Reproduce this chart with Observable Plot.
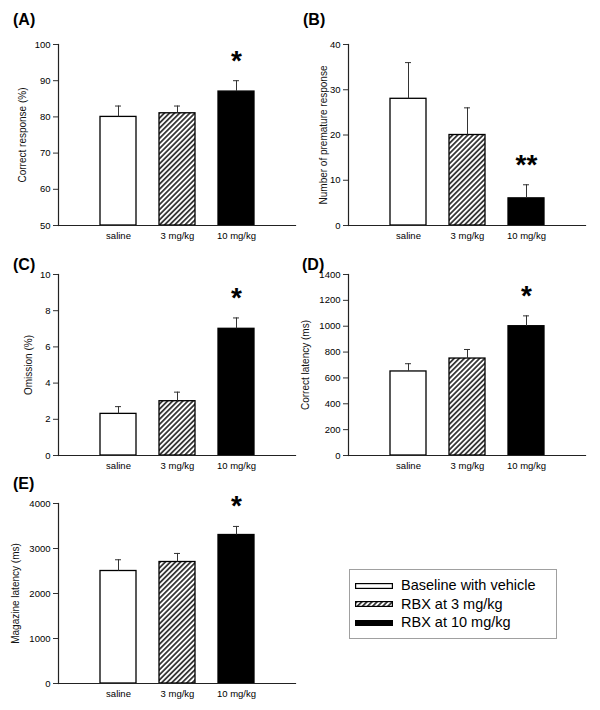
<!DOCTYPE html>
<html><head><meta charset="utf-8">
<script src="https://cdn.jsdelivr.net/npm/d3@7"></script>
<script src="https://cdn.jsdelivr.net/npm/@observablehq/plot@0.6"></script>
<style>
body{margin:0;background:#fff;font-family:"Liberation Sans",Arial,sans-serif;}
#wrap{position:relative;width:600px;height:710px;overflow:hidden;}
.panel{position:absolute;}
.plabel{position:absolute;font-weight:bold;font-size:16px;line-height:16px;}
#legend{position:absolute;left:349px;top:569px;width:206px;height:68px;border:1px solid #a0a0a0;background:#fff;}
.lrow{position:absolute;left:0;height:18px;font-size:14.5px;line-height:18px;white-space:nowrap;}
.lrow svg{position:absolute;left:5px;top:6.5px;}
.lrow span{position:absolute;left:51px;top:0;}
</style></head><body>
<svg width="0" height="0" style="position:absolute">
  <defs>
    <pattern id="hatch" patternUnits="userSpaceOnUse" width="3.6" height="10" patternTransform="rotate(45)">
      <rect width="3.6" height="10" fill="white"/>
      <line x1="1.8" y1="0" x2="1.8" y2="10" stroke="black" stroke-width="1.4"/>
    </pattern>
  </defs>
</svg>
<div id="wrap"></div>
<script>
// ---- data ----
const doses = ["saline", "3 mg/kg", "10 mg/kg"];
const groupFills = ["white", "url(#hatch)", "black"];
const legendLabels = ["Baseline with vehicle", "RBX at 3 mg/kg", "RBX at 10 mg/kg"];
const panelLabels = ["(A)", "(B)", "(C)", "(D)", "(E)"];
const yTitles = ["Correct response (%)", "Number of premature response", "Omission (%)", "Correct latency (ms)", "Magazine latency (ms)"];

const meanA = [80, 81, 87];      const errA = [3, 2, 3];       const sigA = ["", "", "*"];
const meanB = [28, 20, 6];       const errB = [8, 6, 3];       const sigB = ["", "", "**"];
const meanC = [2.3, 3.0, 7.0];   const errC = [0.4, 0.5, 0.6]; const sigC = ["", "", "*"];
const meanD = [650, 750, 1000];  const errD = [60, 70, 80];    const sigD = ["", "", "*"];
const meanE = [2500, 2700, 3300];const errE = [250, 190, 190]; const sigE = ["", "", "*"];

const domainA = [50, 100];  const ticksA = [50, 60, 70, 80, 90, 100];
const domainB = [0, 40];    const ticksB = [0, 10, 20, 30, 40];
const domainC = [0, 10];    const ticksC = [0, 2, 4, 6, 8, 10];
const domainD = [0, 1400];  const ticksD = [0, 200, 400, 600, 800, 1000, 1200, 1400];
const domainE = [0, 4000];  const ticksE = [0, 1000, 2000, 3000, 4000];

// ---- layout ----
const wrap = document.getElementById("wrap");
const font = "'Liberation Sans', Arial, sans-serif";

function panel(mean, err, sig, domain, ticks, title, label, L) {
  const data = doses.map((d, i) => ({dose: d, mean: mean[i], err: err[i], sig: sig[i], base: domain[0], fill: groupFills[i]}));
  const svg = Plot.plot({
    width: 300, height: L.h,
    marginLeft: L.ml, marginRight: L.mr, marginTop: L.mt, marginBottom: L.mb,
    style: {fontFamily: font, fontSize: "9.5px", background: "transparent", color: "#000", overflow: "visible"},
    x: {domain: doses, paddingInner: 0.392, paddingOuter: 0.696, label: null},
    y: {domain: domain, label: null},
    color: {type: "identity"},
    marks: [
      Plot.barY(data, {x: "dose", y1: "base", y2: "mean", fill: "fill", stroke: "black", strokeWidth: 1.3}),
      Plot.ruleX(data, {x: "dose", y1: "mean", y2: d => d.mean + d.err, stroke: "#333", strokeWidth: 1}),
      Plot.tickY(data, {x: "dose", y: d => d.mean + d.err, stroke: "#333", strokeWidth: 1, insetLeft: 15, insetRight: 15}),
      Plot.text(data, {x: "dose", y: d => d.mean + d.err, text: "sig", dy: -20, fontSize: 28, fontWeight: "bold", fill: "black"}),
      Plot.axisY({ticks: ticks, tickSize: 5, tickPadding: 3, tickFormat: d => String(d), label: null, stroke: "#333"}),
      Plot.axisX({tickSize: 0, tickPadding: 7, label: null}),
      Plot.frame({anchor: "left", stroke: "#222", strokeWidth: 1.2}),
      Plot.frame({anchor: "bottom", stroke: "#222", strokeWidth: 1.2}),
      Plot.text([title], {frameAnchor: "left", textAnchor: "middle", lineAnchor: "middle", rotate: -90, dx: -L.to, fontSize: 10, text: d => d, fill: "#111"})
    ]
  });
  svg.classList.add("panel");
  svg.style.left = L.left + "px";
  svg.style.top = L.top + "px";
  wrap.appendChild(svg);
  const lab = document.createElement("div");
  lab.className = "plabel";
  lab.textContent = label;
  lab.style.left = L.lx + "px";
  lab.style.top = L.ly + "px";
  wrap.appendChild(lab);
}

panel(meanA, errA, sigA, domainA, ticksA, yTitles[0], panelLabels[0], {left: 0,   top: 0,   h: 250, ml: 58, mr: 5,  mt: 44, mb: 25, to: 36, lx: 13,  ly: 12});
panel(meanB, errB, sigB, domainB, ticksB, yTitles[1], panelLabels[1], {left: 300, top: 0,   h: 250, ml: 48, mr: 15, mt: 44, mb: 25, to: 25, lx: 303, ly: 12});
panel(meanC, errC, sigC, domainC, ticksC, yTitles[2], panelLabels[2], {left: 0,   top: 230, h: 250, ml: 58, mr: 5,  mt: 44, mb: 25, to: 30, lx: 13,  ly: 257});
panel(meanD, errD, sigD, domainD, ticksD, yTitles[3], panelLabels[3], {left: 300, top: 230, h: 250, ml: 48, mr: 15, mt: 44, mb: 25, to: 43, lx: 302, ly: 257});
panel(meanE, errE, sigE, domainE, ticksE, yTitles[4], panelLabels[4], {left: 0,   top: 460, h: 248, ml: 58, mr: 5,  mt: 43, mb: 25, to: 43, lx: 13,  ly: 476});

// ---- legend ----
const legend = document.createElement("div");
legend.id = "legend";
legendLabels.forEach((t, i) => {
  const row = document.createElement("div");
  row.className = "lrow";
  row.style.top = (6 + i * 18.5) + "px";
  row.innerHTML = `<svg width="38" height="6"><rect x="0.6" y="0.6" width="36.8" height="4.8" fill="${groupFills[i]}" stroke="black" stroke-width="1.2"/></svg><span>${t}</span>`;
  legend.appendChild(row);
});
wrap.appendChild(legend);
</script>
</body></html>
